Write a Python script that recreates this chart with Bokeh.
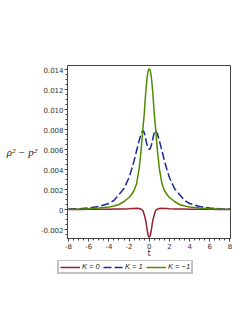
from bokeh.plotting import figure
from bokeh.layouts import column, row
from bokeh.models import FixedTicker, Legend, LegendItem, Range1d
from bokeh.embed import file_html
from bokeh.resources import INLINE

t = [-8, -7, -6, -5, -4, -3.5, -3, -2.5, -2, -1.75, -1.5, -1.25, -1, -0.8, -0.63, -0.5, -0.4, -0.3, -0.2, -0.1, 0,
     0.1, 0.2, 0.3, 0.4, 0.5, 0.63, 0.8, 1, 1.25, 1.5, 1.75, 2, 2.5, 3, 3.5, 4, 5, 6, 7, 8]

k0 = [0.00001, 0.00001, 0.00002, 0.00002, 0.00003, 0.00004, 0.00005, 0.00006, 0.00008, 0.0001, 0.00011, 0.00012,
      0.0001, 0.00003, -0.0001, -0.0005, -0.0009, -0.0014, -0.0021, -0.0026, -0.0028,
      -0.0026, -0.0021, -0.0014, -0.0009, -0.0005, -0.0001, 0.00003, 0.0001, 0.00012, 0.00011, 0.0001, 0.00008,
      0.00006, 0.00005, 0.00004, 0.00003, 0.00002, 0.00002, 0.00001, 0.00001]

k1 = [0.00004, 0.00008, 0.00015, 0.0003, 0.0006, 0.0009, 0.0015, 0.0021, 0.0032, 0.0040, 0.0049, 0.0059,
      0.0069, 0.0076, 0.0079, 0.0077, 0.0073, 0.0068, 0.0064, 0.0061, 0.0060,
      0.0061, 0.0064, 0.0068, 0.0073, 0.0077, 0.0079, 0.0076, 0.0069, 0.0059, 0.0049, 0.0040, 0.0032,
      0.0021, 0.0015, 0.0009, 0.0006, 0.0003, 0.00015, 0.00008, 0.00004]

km1 = [0.00003, 0.00005, 0.00008, 0.00014, 0.00025, 0.00035, 0.0005, 0.0008, 0.0012, 0.0015, 0.0019, 0.0026,
       0.0041, 0.0060, 0.0081, 0.0095, 0.0110, 0.0123, 0.0133, 0.0139, 0.0141,
       0.0139, 0.0133, 0.0123, 0.0110, 0.0095, 0.0081, 0.0060, 0.0041, 0.0026, 0.0019, 0.0015, 0.0012,
       0.0008, 0.0005, 0.00035, 0.00025, 0.00014, 0.00008, 0.00005, 0.00003]

x_ticks = [-8, -6, -4, -2, 0, 2, 4, 6, 8]
x_labels = ["-8", "-6", "-4", "-2", "0", "2", "4", "6", "8"]
y_ticks = [-0.002, 0.0, 0.002, 0.004, 0.006, 0.008, 0.010, 0.012, 0.014]
y_labels = ["-0.002", "0", "0.002", "0.004", "0.006", "0.008", "0.010", "0.012", "0.014"]
labels = ["K = 0", "K = 1", "K = \u22121"]
colors = ["#9a1f30", "#1c2a96", "#4f8a00"]
dashes = ["solid", "8 3", "solid"]

p = figure(width=241, height=260, output_backend="svg", toolbar_location=None,
           x_range=Range1d(-8.1, 8.05), y_range=Range1d(-0.0029, 0.0144),
           min_border_left=67, min_border_right=11, min_border_top=65, min_border_bottom=22)

p.xgrid.visible = False
p.ygrid.visible = False
p.outline_line_color = "#444444"
p.outline_line_width = 1

p.xaxis.ticker = FixedTicker(ticks=x_ticks, minor_ticks=[v / 2 for v in range(-16, 17)])
p.xaxis.major_label_overrides = {v: s for v, s in zip(x_ticks, x_labels)}
p.yaxis.ticker = FixedTicker(ticks=y_ticks, minor_ticks=[v * 0.0005 for v in range(-5, 29)])
p.yaxis.major_label_overrides = {v: s for v, s in zip(y_ticks, y_labels)}

for ax in (p.xaxis[0], p.yaxis[0]):
    ax.axis_line_color = "#444444"
    ax.major_tick_line_color = "#444444"
    ax.minor_tick_line_color = "#444444"
    ax.major_tick_out = 3
    ax.major_tick_in = 0
    ax.minor_tick_out = 2
    ax.minor_tick_in = 0
    ax.major_label_text_font = "DejaVu Sans"
    ax.major_label_text_font_size = "7px"
    ax.major_label_text_color = "#333333"
    ax.major_label_standoff = 1

p.xaxis.axis_label = "t"
p.xaxis.axis_label_text_font = "DejaVu Sans"
p.xaxis.axis_label_text_font_style = "normal"
p.xaxis.axis_label_text_font_size = "8px"
p.xaxis.axis_label_text_color = "#333333"
p.xaxis.axis_label_standoff = -3

p.yaxis.axis_label = "\u03c1\u00b2 \u2212 p\u00b2"
p.yaxis.axis_label_orientation = "horizontal"
p.yaxis.axis_label_text_font = "Liberation Serif"
p.yaxis.axis_label_text_font_style = "italic"
p.yaxis.axis_label_text_font_size = "11px"
p.yaxis.axis_label_text_color = "#222222"
p.yaxis.axis_label_standoff = 1

p.line(t, k0, line_color=colors[0], line_width=1.5)
p.line(t, k1, line_color=colors[1], line_width=1.5, line_dash=dashes[1])
p.line(t, km1, line_color=colors[2], line_width=1.5)

# legend strip below the plot
q = figure(width=241, height=30, output_backend="svg", toolbar_location=None,
           x_range=Range1d(0, 1), y_range=Range1d(0, 1), min_border=0)
q.axis.visible = False
q.grid.visible = False
q.outline_line_color = None
items = []
for lab, c, d in zip(labels, colors, dashes):
    r = q.line([5, 6], [5, 6], line_color=c, line_width=1.5, line_dash=d)
    items.append(LegendItem(label=lab, renderers=[r]))
legend = Legend(items=items, orientation="horizontal", location=(57, 16),
                label_text_font="Liberation Sans", label_text_font_size="7.5px",
                label_text_font_style="italic", label_text_color="#222222",
                glyph_width=20, glyph_height=8, label_standoff=2, spacing=1,
                padding=1, margin=0, label_height=8,
                border_line_color="#888888", border_line_width=2)
q.add_layout(legend, "center")

open("out.html", "w").write(file_html(column(p, row(q), spacing=0), INLINE))
